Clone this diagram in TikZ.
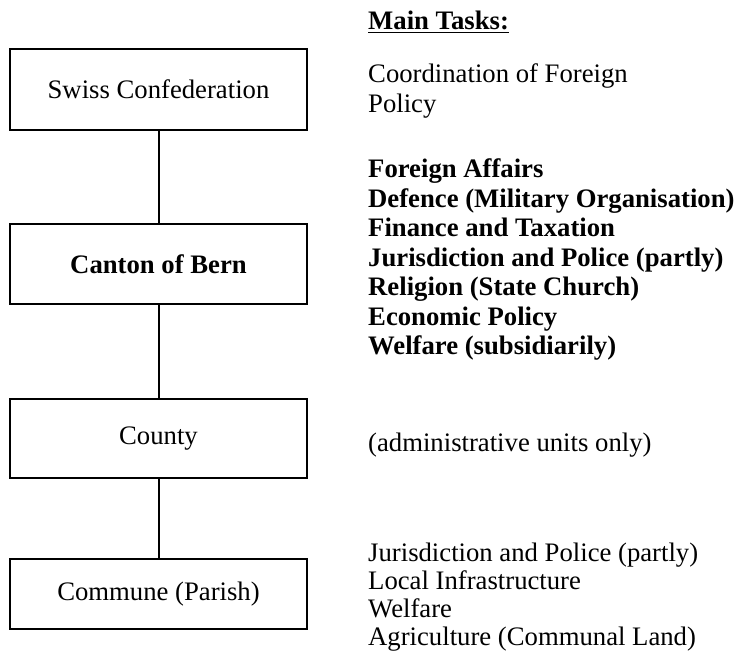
\documentclass[tikz,border=0pt]{standalone}
\usepackage{fontspec}
\setmainfont{Liberation Serif}
\begin{document}
\begin{tikzpicture}[x=1pt,y=-1pt,
  unit/.style={draw, line width=1.1pt, inner sep=0pt, minimum width=297pt, font=\fontsize{26.7}{29.5}\selectfont},
  link/.style={line width=2pt},
  tasks/.style={anchor=base west, inner sep=0pt, font=\fontsize{26.7}{29.5}\selectfont},
  tasksc/.style={anchor=base west, inner sep=0pt, font=\fontsize{26.7}{28}\selectfont}]
\useasboundingbox (0,0) rectangle (739,660);
\node[unit, minimum height=81pt] (conf) at (158.5,89.5) {Swiss Confederation};
\node[unit, minimum height=80pt] (canton) at (158.5,264) {\bfseries Canton of Bern};
\node[unit, minimum height=79pt] (county) at (158.5,438.5) {County};
\node[unit, minimum height=70pt] (commune) at (158.5,594) {Commune (Parish)};
\draw[link] (conf.south) -- (canton.north);
\draw[link] (canton.south) -- (county.north);
\draw[link] (county.south) -- (commune.north);
\node[tasks] (head) at (368,30) {\bfseries\underline{Main Tasks:}};
\node[tasks] (tconf) at (368,83) {\begin{tabular}[t]{@{}l@{}}Coordination of Foreign\\Policy\end{tabular}};
\node[tasks] (tcanton) at (368,178) {\bfseries\begin{tabular}[t]{@{}l@{}}Foreign Affairs\\Defence (Military Organisation)\\Finance and Taxation\\Jurisdiction and Police (partly)\\Religion (State Church)\\Economic Policy\\Welfare (subsidiarily)\end{tabular}};
\node[tasks] (tcounty) at (368,451) {(administrative units only)};
\node[tasksc] (tcommune) at (368,561) {\begin{tabular}[t]{@{}l@{}}Jurisdiction and Police (partly)\\Local Infrastructure\\Welfare\\Agriculture (Communal Land)\end{tabular}};
\end{tikzpicture}
\end{document}
